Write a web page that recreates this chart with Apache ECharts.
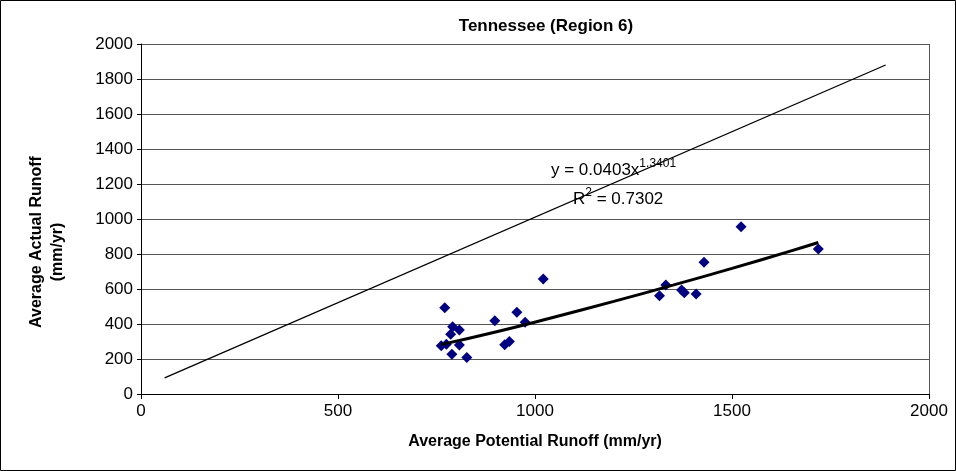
<!DOCTYPE html>
<html><head><meta charset="utf-8">
<script src="https://cdn.jsdelivr.net/npm/echarts@6/dist/echarts.min.js"></script>
<style>html,body{margin:0;padding:0;background:#fff}#c{width:956px;height:471px;}</style>
</head><body><div id="c"></div>
<script>
var potentialRunoff = [771, 791, 808, 786, 762, 775, 789, 808, 827, 898, 954, 975, 923, 935, 1021, 1316, 1332, 1372, 1379, 1409, 1429, 1523, 1719];
var actualRunoff    = [493, 385, 366, 341, 276, 285, 227, 280, 208, 419, 467, 410, 282, 300, 657, 562, 623, 594, 579, 571, 753, 956, 829];
var trendX = [761, 900, 1050, 1200, 1350, 1500, 1650, 1719];
var trendY = [282, 354, 440, 529, 622, 718, 818, 866];
var lineX = [60, 1890];
var lineY = [92, 1880];
var xTicks = [0, 500, 1000, 1500, 2000];
var yTicks = [0, 200, 400, 600, 800, 1000, 1200, 1400, 1600, 1800, 2000];

var chart = echarts.init(document.getElementById('c'));
var ff = '"Liberation Sans", Arial, sans-serif';
chart.setOption({
  animation: false,
  backgroundColor: '#fff',
  title: {text: 'Tennessee (Region 6)', left: 541, top: 13, textAlign: 'center',
    textStyle: {fontFamily: ff, fontSize: 17, fontWeight: 'bold', color: '#000'}},
  grid: {left: 141, right: 27, top: 44, bottom: 77},
  xAxis: {type: 'value', min: 0, max: 2000, interval: 500,
    name: 'Average Potential Runoff (mm/yr)', nameLocation: 'middle', nameGap: 40,
    nameTextStyle: {fontFamily: ff, fontSize: 16, fontWeight: 'bold', color: '#000'},
    axisLine: {lineStyle: {color: '#000', width: 1}},
    axisTick: {show: true, length: 5, lineStyle: {color: '#000'}},
    axisLabel: {fontFamily: ff, fontSize: 17, color: '#000', margin: 9,
      formatter: function(v){return xTicks.indexOf(v) >= 0 ? String(v) : '';}},
    splitLine: {show: false}},
  yAxis: {type: 'value', min: 0, max: 2000, interval: 200,
    axisLine: {show: true, lineStyle: {color: '#000', width: 1}},
    axisTick: {show: true, length: 4, lineStyle: {color: '#000'}},
    axisLabel: {fontFamily: ff, fontSize: 17, color: '#000', margin: 8,
      formatter: function(v){return yTicks.indexOf(v) >= 0 ? String(v) : '';}},
    splitLine: {show: true, lineStyle: {color: '#555', width: 1}}},
  graphic: [
    {type: 'rect', shape: {x: 0.5, y: 0.5, width: 955, height: 470}, style: {fill: 'none', stroke: '#000', lineWidth: 1}, z: 100},
    {type: 'line', shape: {x1: 929.5, y1: 44, x2: 929.5, y2: 394}, style: {stroke: '#555', lineWidth: 1}},
    {type: 'text', x: 37, y: 242, rotation: Math.PI / 2, z: 50, style: {
      text: 'Average Actual Runoff', fontFamily: ff, fontSize: 16, fontWeight: 'bold', fill: '#000',
      textAlign: 'center', textVerticalAlign: 'middle'}},
    {type: 'text', x: 58, y: 252, rotation: Math.PI / 2, z: 50, style: {
      text: '(mm/yr)', fontFamily: ff, fontSize: 16, fontWeight: 'bold', fill: '#000',
      textAlign: 'center', textVerticalAlign: 'middle'}},
    {type: 'text', left: 551, top: 158, z: 50, style: {
      rich: {n: {fontFamily: ff, fontSize: 17, fill: '#000'}, s: {fontFamily: ff, fontSize: 12, fill: '#000', padding: [0,0,12,0]}},
      text: '{n|y = 0.0403x}{s|1.3401}'}},
    {type: 'text', left: 573, top: 187, z: 50, style: {
      rich: {n: {fontFamily: ff, fontSize: 17, fill: '#000'}, s: {fontFamily: ff, fontSize: 12, fill: '#000', padding: [0,0,12,0]}},
      text: '{n|R}{s|2}{n| = 0.7302}'}}
  ],
  series: [
    {type: 'line', data: lineX.map(function(x,i){return [x, lineY[i]];}), symbol: 'none',
      lineStyle: {color: '#000', width: 1.3}, z: 3},
    {type: 'scatter', data: potentialRunoff.map(function(x,i){return [x, actualRunoff[i]];}),
      symbol: 'diamond', symbolSize: 11, itemStyle: {color: '#000080', opacity: 1}, z: 4},
    {type: 'line', data: trendX.map(function(x,i){return [x, trendY[i]];}), symbol: 'none', smooth: true,
      lineStyle: {color: '#000', width: 3}, z: 5}
  ]
});
</script></body></html>
